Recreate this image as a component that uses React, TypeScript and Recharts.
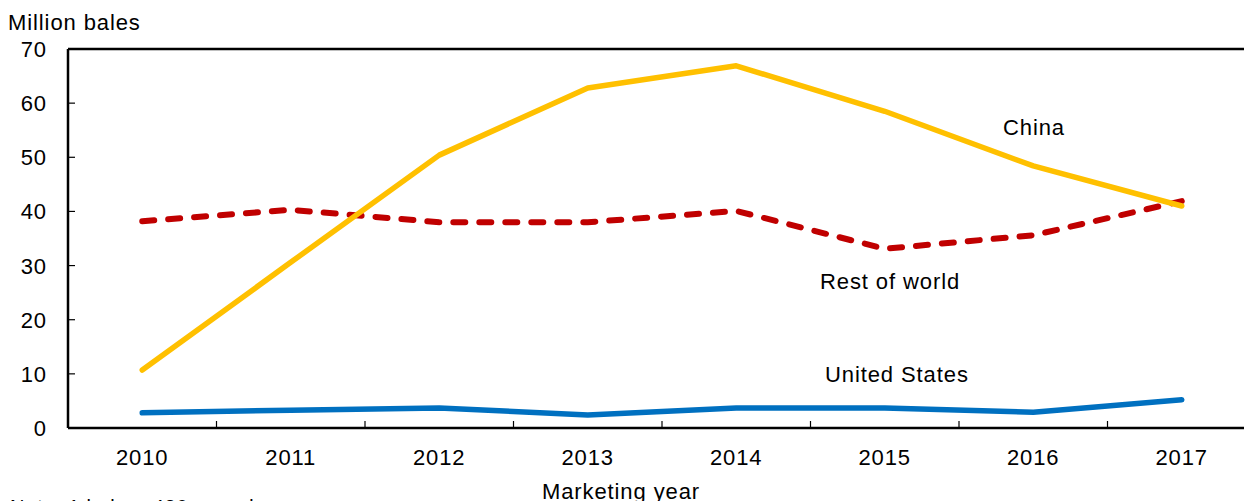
import React from 'react'
import { LineChart, Line, XAxis, YAxis, ReferenceLine, Customized } from 'recharts'

const years = ['2010', '2011', '2012', '2013', '2014', '2015', '2016', '2017']
const china = [10.7, 30.6, 50.4, 62.8, 66.9, 58.5, 48.4, 41.0]
const restOfWorld = [38.2, 40.3, 38.0, 38.0, 40.1, 33.1, 35.6, 41.9]
const unitedStates = [2.8, 3.3, 3.7, 2.4, 3.7, 3.7, 2.9, 5.2]
const yTicks = [0, 10, 20, 30, 40, 50, 60, 70]

const data = years.map((y, i) => ({
  year: y,
  china: china[i],
  row: restOfWorld[i],
  us: unitedStates[i],
}))

const FONT = '"Liberation Sans", Arial, sans-serif'
const txt = { fontFamily: FONT, fontSize: 22, letterSpacing: 0.9, fill: '#000' }

const PLOT_W = 1188
const HALF_BAND = PLOT_W / years.length / 2

const YTick = (props: any) => {
  const { x, y, payload } = props
  return (
    <g>
      {payload.value !== 0 && payload.value !== 70 && (
        <line x1={x} y1={y} x2={x + 7} y2={y} stroke="#000" strokeWidth={1.2} />
      )}
      <text x={x - 21} y={y + 8} textAnchor="end" style={txt}>{payload.value}</text>
    </g>
  )
}

const XTick = (props: any) => {
  const { x, y, payload, index } = props
  return (
    <g>
      {index < years.length - 1 && (
        <line x1={x + HALF_BAND} y1={y} x2={x + HALF_BAND} y2={y - 7} stroke="#000" strokeWidth={1.2} />
      )}
      <text x={x} y={y + 37} textAnchor="middle" style={txt}>{payload.value}</text>
    </g>
  )
}

const Labels = () => (
  <g>
    <text x={8} y={30} style={txt}>Million bales</text>
    <text x={1003} y={135} style={txt}>China</text>
    <text x={820} y={289} style={txt}>Rest of world</text>
    <text x={825} y={382} style={txt}>United States</text>
    <text x={621} y={499} textAnchor="middle" style={txt}>Marketing year</text>
    <text x={10} y={514} style={{ ...txt, fontSize: 20, letterSpacing: 0.8 }}>Note: 1 bale = 480 pounds.</text>
  </g>
)

export default function App() {
  return (
    <div style={{ position: 'absolute', left: 0, top: 0, width: 1244, height: 501, overflow: 'hidden', background: '#fff' }}>
      <LineChart width={1270} height={501} data={data} margin={{ top: 49, right: 14, bottom: 0, left: 0 }}>
        <XAxis
          dataKey="year"
          scale="band"
          height={73}
          axisLine={{ stroke: '#000', strokeWidth: 2.5 }}
          tickLine={false}
          tickSize={0}
          tickMargin={0}
          tick={<XTick />}
          interval={0}
        />
        <YAxis
          width={68}
          domain={[0, 70]}
          ticks={yTicks}
          interval={0}
          axisLine={{ stroke: '#000', strokeWidth: 2.5 }}
          tickLine={false}
          tickSize={0}
          tickMargin={0}
          tick={<YTick />}
        />
        <ReferenceLine y={70} stroke="#000" strokeWidth={2.5} />
        <Line dataKey="us" stroke="#0070C0" strokeWidth={5.5} dot={false} strokeLinecap="round" strokeLinejoin="round" isAnimationActive={false} />
        <Line dataKey="row" stroke="#C00000" strokeWidth={6} strokeDasharray="12 14" dot={false} strokeLinecap="round" isAnimationActive={false} />
        <Line dataKey="china" stroke="#FFC000" strokeWidth={5.5} dot={false} strokeLinecap="round" strokeLinejoin="round" isAnimationActive={false} />
        <Customized component={Labels} />
      </LineChart>
    </div>
  )
}
